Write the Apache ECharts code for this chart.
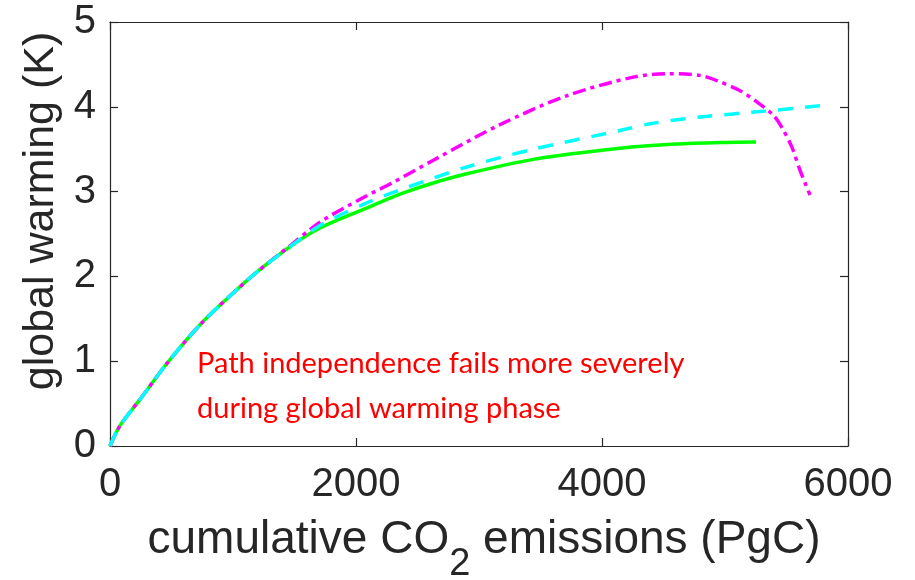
<!DOCTYPE html>
<html>
<head>
<meta charset="utf-8">
<script src="https://cdn.jsdelivr.net/npm/echarts@6/dist/echarts.min.js"></script>
<style>
html,body{margin:0;padding:0;background:#fff;}
#chart{width:915px;height:580px;}
</style>
</head>
<body>
<div id="chart"></div>
<script>
// ---- data ----
var xTicks = [0, 2000, 4000, 6000];
var yTicks = [0, 1, 2, 3, 4, 5];

var greenSeries = [[0,0],[40,0.13],[95,0.27],[244,0.55],[461,0.97],[732,1.43],[976,1.77],[1193,2.05],[1463,2.35],[1707,2.57],[2060,2.79],[2358,2.97],[2602,3.09],[2900,3.21],[3442,3.38],[4146,3.51],[4600,3.56],[5000,3.58],[5252,3.585]];
var cyanSeries = [[0,0],[40,0.13],[95,0.27],[244,0.55],[461,0.97],[732,1.43],[976,1.77],[1193,2.05],[1463,2.35],[1707,2.60],[2060,2.85],[2358,3.02],[2900,3.29],[3442,3.50],[4146,3.72],[4390,3.80],[4797,3.88],[5333,3.95],[5829,4.02]];
var magentaSeries = [[0,0],[40,0.13],[95,0.27],[244,0.55],[461,0.97],[732,1.43],[976,1.77],[1193,2.05],[1463,2.36],[1707,2.64],[2060,2.93],[2303,3.11],[2629,3.37],[3171,3.79],[3713,4.13],[4254,4.35],[4553,4.39],[4797,4.37],[4932,4.31],[5122,4.19],[5257,4.06],[5393,3.90],[5461,3.76],[5542,3.53],[5610,3.25],[5691,2.96]];

var xTitleParts = ['cumulative CO', '2', ' emissions (PgC)'];
var yTitle = 'global warming (K)';
var noteLines = ['Path independence fails more severely', 'during global warming phase'];

// ---- chart ----
var chart = echarts.init(document.getElementById('chart'), null, {renderer: 'canvas'});
var axisColor = '#262626';
var labelFont = 'Liberation Sans';

function baseAxis(extra) {
  var a = {
    axisLine: {show: true, onZero: false, lineStyle: {color: axisColor, width: 1.2}},
    axisTick: {show: true, inside: true, length: 8, lineStyle: {color: axisColor, width: 1.2}},
    splitLine: {show: false}
  };
  for (var k in extra) a[k] = extra[k];
  return a;
}

// measure title parts to place the subscript
var mctx = document.createElement('canvas').getContext('2d');
function textW(t, size) { mctx.font = size + 'px "' + labelFont + '"'; return mctx.measureText(t).width; }
var mainSize = 46, subSize = 38;
var w1 = textW(xTitleParts[0], mainSize), w2 = textW(xTitleParts[1], subSize), w3 = textW(xTitleParts[2], mainSize);
var titleCenter = 484;
var x0 = titleCenter - (w1 + w2 + w3) / 2;

var option = {
  backgroundColor: '#fff',
  animation: false,
  grid: {left: 110, right: 67, top: 22, bottom: 134, containLabel: false, outerBoundsMode: 'none'},
  xAxis: [
    baseAxis({type: 'value', position: 'bottom', min: xTicks[0], max: xTicks[xTicks.length-1], interval: xTicks[1]-xTicks[0],
      axisLabel: {show: true, color: axisColor, fontSize: 40, fontFamily: labelFont, margin: 19,
        formatter: function (v) { return String(v); }}}),
    baseAxis({type: 'value', position: 'top', min: xTicks[0], max: xTicks[xTicks.length-1], interval: xTicks[1]-xTicks[0],
      axisLabel: {show: false}})
  ],
  yAxis: [
    baseAxis({type: 'value', position: 'left', min: yTicks[0], max: yTicks[yTicks.length-1], interval: 1,
      axisLabel: {show: true, color: axisColor, fontSize: 40, fontFamily: labelFont, margin: 14}}),
    baseAxis({type: 'value', position: 'right', min: yTicks[0], max: yTicks[yTicks.length-1], interval: 1,
      axisLabel: {show: false}})
  ],
  series: [
    {type: 'line', name: 'green', data: greenSeries, showSymbol: false, smooth: 0.3,
      lineStyle: {color: '#00ff00', width: 3.5, type: 'solid'}, z: 2},
    {type: 'line', name: 'magenta', data: magentaSeries, showSymbol: false, smooth: 0.3,
      lineStyle: {color: '#ff00ff', width: 3.5, type: [13, 5, 4, 5], cap: 'butt'}, z: 3},
    {type: 'line', name: 'cyan', data: cyanSeries, showSymbol: false, smooth: 0.3,
      lineStyle: {color: '#00ffff', width: 3.5, type: [15, 12], cap: 'butt'}, z: 4}
  ],
  graphic: [
    {type: 'text', x: x0, y: 540, silent: true,
      style: {text: xTitleParts[0], fontSize: mainSize, fontFamily: labelFont, fill: axisColor, align: 'left', verticalAlign: 'middle'}},
    {type: 'text', x: x0 + w1, y: 565, silent: true,
      style: {text: xTitleParts[1], fontSize: subSize, fontFamily: labelFont, fill: axisColor, align: 'left', verticalAlign: 'middle'}},
    {type: 'text', x: x0 + w1 + w2, y: 540, silent: true,
      style: {text: xTitleParts[2], fontSize: mainSize, fontFamily: labelFont, fill: axisColor, align: 'left', verticalAlign: 'middle'}},
    {type: 'text', x: 41, y: 211, rotation: Math.PI/2, silent: true,
      style: {text: yTitle, fontSize: 43, fontFamily: labelFont, fill: axisColor, align: 'center', verticalAlign: 'middle'}},
    {type: 'text', x: 197, y: 341, silent: true,
      style: {text: noteLines.join('\n'), fontSize: 29, lineHeight: 45, fontFamily: 'Lato', fill: '#ff0000', align: 'left', verticalAlign: 'top'}}
  ]
};
chart.setOption(option);
</script>
</body>
</html>
